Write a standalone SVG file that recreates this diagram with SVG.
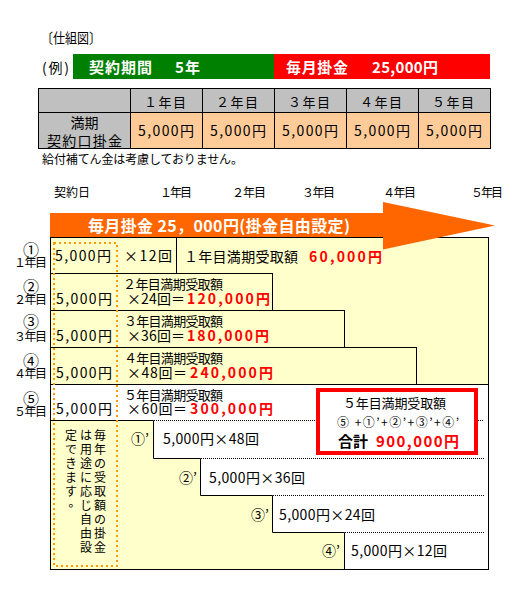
<svg xmlns="http://www.w3.org/2000/svg" width="520" height="600" viewBox="0 0 520 600">
<style>
text{font-family:"Noto Sans CJK JP","Liberation Sans",sans-serif;fill:#000}
.w{fill:#fff;font-weight:bold}
.r{fill:#f00;font-weight:bold}
.b{font-weight:bold}
.ln{stroke:#000;stroke-width:1;fill:none}
.dot{stroke:#000;stroke-width:1;stroke-dasharray:1 1;fill:none}
.odot{stroke:#FF9900;stroke-width:2;stroke-dasharray:2 3;fill:none}
.c{text-anchor:middle}
.f12{font-size:12px}
.f13{font-size:13px}
.f14{font-size:14px}
.f15{font-size:15px}
.num{font-size:16px}
</style>
<rect width="520" height="600" fill="#fff"/>

<g id="header">
<text class="f14" x="41" y="43" textLength="60" lengthAdjust="spacingAndGlyphs">〔仕組図〕</text>
<text class="f14" x="42" y="73" textLength="27">(例)</text>
<rect x="73" y="54" width="201" height="25" fill="#008000"/>
<rect x="274" y="54" width="216" height="25" fill="#FF0000"/>
<text class="w f15" x="89" y="73" textLength="63">契約期間</text>
<text class="w f15" x="175" y="73" textLength="25">5年</text>
<text class="w f15" x="286" y="73" textLength="62">毎月掛金</text>
<text class="w f15" x="372" y="73" textLength="66">25,000円</text>
</g>

<g id="table">
<rect x="38.5" y="88.5" width="452" height="24" fill="#C0C0C0"/>
<rect x="38.5" y="112.5" width="92" height="36" fill="#C0C0C0"/>
<rect x="130.5" y="112.5" width="360" height="36" fill="#FFCC99"/>
<rect class="ln" x="38.5" y="88.5" width="452" height="60"/>
<path class="ln" d="M38.5 112.5H490.5M130.5 88.5V148.5M202.5 88.5V148.5M274.5 88.5V148.5M346.5 88.5V148.5M418.5 88.5V148.5"/>
<text class="f13 c" x="165" y="107" textLength="42">１年目</text>
<text class="f13 c" x="237" y="107" textLength="42">２年目</text>
<text class="f13 c" x="309" y="107" textLength="42">３年目</text>
<text class="f13 c" x="381" y="107" textLength="42">４年目</text>
<text class="f13 c" x="453" y="107" textLength="42">５年目</text>
<text class="f14 c" x="84.5" y="128" textLength="28">満期</text>
<text class="f14 c" x="84.5" y="146" textLength="75">契約口掛金</text>
<text class="f14" x="138" y="136" textLength="56">5,000円</text>
<text class="f14" x="210" y="136" textLength="56">5,000円</text>
<text class="f14" x="282" y="136" textLength="56">5,000円</text>
<text class="f14" x="354" y="136" textLength="56">5,000円</text>
<text class="f14" x="426" y="136" textLength="56">5,000円</text>
</g>
<text class="f12" x="42" y="164" textLength="201">給付補てん金は考慮しておりません。</text>

<g id="timeline">
<text class="f12" x="54" y="197" textLength="36">契約日</text>
<text class="f12" x="160" y="197" textLength="32">１年目</text>
<text class="f12" x="232" y="197" textLength="34">２年目</text>
<text class="f12" x="302" y="197" textLength="33">３年目</text>
<text class="f12" x="383" y="197" textLength="33">４年目</text>
<text class="f12" x="471" y="197" textLength="32">５年目</text>
</g>

<g id="chart">
<rect x="50.5" y="237.5" width="438" height="332" fill="#FFFFCC"/>
<rect x="50.5" y="384.5" width="438" height="36" fill="#fff"/>
<polygon points="153.5,420.5 488.5,420.5 488.5,569.5 344.5,569.5 344.5,532.5 272.5,532.5 272.5,495.5 200.5,495.5 200.5,458.5 153.5,458.5" fill="#fff"/>
<rect class="ln" x="50.5" y="237.5" width="126" height="36" fill="#FF99CC"/>
<rect class="ln" x="50.5" y="273.5" width="222" height="37" fill="#CCFFCC"/>
<rect class="ln" x="50.5" y="310.5" width="294" height="37" fill="#CC99FF"/>
<rect class="ln" x="50.5" y="347.5" width="366" height="37" fill="#99CCFF"/>
<path class="ln" d="M50.5 384.5H488.5M50.5 420.5H153.5V458.5H200.5V495.5H272.5V532.5H344.5V569.5"/>
<rect class="ln" x="50.5" y="237.5" width="438" height="332"/>
</g>

<g id="connectors">
<path class="dot" d="M154 420.5H484M201 458.5H484M273 495.5H484M345 532.5H484"/>
<rect class="odot" x="54" y="243" width="63" height="323"/>
</g>

<g id="arrow">
<polygon points="50,213 383,213 383,202 495,225.5 383,249.5 383,237 50,237" fill="#FF6600"/>
<text class="w" x="88" y="232" font-size="16" textLength="262">毎月掛金 25，000円(掛金自由設定)</text>
</g>

<g id="row-labels">
<text id="label1"><tspan class="c num" x="31" y="256">①</tspan><tspan x="14" y="267" font-size="12" textLength="33">１年目</tspan></text>
<text id="label2"><tspan class="c num" x="31" y="292.5">②</tspan><tspan x="14" y="304" font-size="12" textLength="33">２年目</tspan></text>
<text id="label3"><tspan class="c num" x="31" y="327.5">③</tspan><tspan x="14" y="340.5" font-size="12" textLength="33">３年目</tspan></text>
<text id="label4"><tspan class="c num" x="31" y="366.5">④</tspan><tspan x="14" y="378" font-size="12" textLength="33">４年目</tspan></text>
<text id="label5"><tspan class="c num" x="31" y="404.5">⑤</tspan><tspan x="14" y="416" font-size="12" textLength="33">５年目</tspan></text>
</g>

<g id="row1">
<text class="f14" x="55" y="261" textLength="56">5,000円</text>
<text class="f14" x="124" y="261" textLength="48">×12回</text>
<text class="f14" x="184" y="262" textLength="114">１年目満期受取額</text>
<text class="r f14" x="309" y="262" textLength="73">60,000円</text>
</g>
<g id="row2">
<text class="f13" x="123" y="289" textLength="100">２年目満期受取額</text>
<text class="f14" x="56" y="304" textLength="56">5,000円</text>
<text class="f14" x="127" y="304" textLength="58">×24回＝</text>
<text class="r f14" x="187" y="304" textLength="83">120,000円</text>
</g>
<g id="row3">
<text class="f13" x="124" y="326" textLength="99">３年目満期受取額</text>
<text class="f14" x="56" y="341" textLength="56">5,000円</text>
<text class="f14" x="127" y="341" textLength="58">×36回＝</text>
<text class="r f14" x="187" y="341" textLength="82">180,000円</text>
</g>
<g id="row4">
<text class="f13" x="124" y="363" textLength="99">４年目満期受取額</text>
<text class="f14" x="56" y="378" textLength="56">5,000円</text>
<text class="f14" x="127" y="378" textLength="60">×48回＝</text>
<text class="r f14" x="190" y="378" textLength="83">240,000円</text>
</g>
<g id="row5">
<text class="f13" x="124" y="400" textLength="99">５年目満期受取額</text>
<text class="f14" x="56" y="414" textLength="56">5,000円</text>
<text class="f14" x="127" y="414" textLength="60">×60回＝</text>
<text class="r f14" x="190" y="414" textLength="83">300,000円</text>
</g>

<g id="steps">
<text class="f14" x="131" y="444">①’</text>
<text class="f14" x="163" y="444" textLength="96">5,000円×48回</text>
<text class="f14" x="179" y="483">②’</text>
<text class="f14" x="209" y="483" textLength="96">5,000円×36回</text>
<text class="f14" x="251" y="520">③’</text>
<text class="f14" x="279" y="520" textLength="96">5,000円×24回</text>
<text class="f14" x="322" y="556">④’</text>
<text class="f14" x="351" y="556" textLength="96">5,000円×12回</text>
</g>

<g id="note" class="f12">
<text class="c"><tspan x="100" y="439.5">毎</tspan><tspan x="100" y="453.6">年</tspan><tspan x="100" y="467.7">の</tspan><tspan x="100" y="481.8">受</tspan><tspan x="100" y="495.9">取</tspan><tspan x="100" y="510">額</tspan><tspan x="100" y="524.1">の</tspan><tspan x="100" y="538.2">掛</tspan><tspan x="100" y="552.3">金</tspan><tspan x="86" y="439.5">は</tspan><tspan x="86" y="453.6">用</tspan><tspan x="86" y="467.7">途</tspan><tspan x="86" y="481.8">に</tspan><tspan x="86" y="495.9">応</tspan><tspan x="86" y="510">じ</tspan><tspan x="86" y="524.1">自</tspan><tspan x="86" y="538.2">由</tspan><tspan x="86" y="552.3">設</tspan><tspan x="71" y="439.5">定</tspan><tspan x="71" y="453.6">で</tspan><tspan x="71" y="467.7">き</tspan><tspan x="71" y="481.8">ま</tspan><tspan x="71" y="495.9">す</tspan><tspan x="74.5" y="506.5">。</tspan></text>
</g>

<g id="total">
<rect x="318" y="390" width="158" height="63" fill="#fff" stroke="#FF0000" stroke-width="4"/>
<text class="f13" x="343" y="408" textLength="103">５年目満期受取額</text>
<text class="f12" x="337" y="427" textLength="122">⑤ +①’+②’+③’+④’</text>
<text class="b f15" x="338" y="447" textLength="30">合計</text>
<text class="r f15" x="376" y="447" textLength="83">900,000円</text>
</g>
</svg>
